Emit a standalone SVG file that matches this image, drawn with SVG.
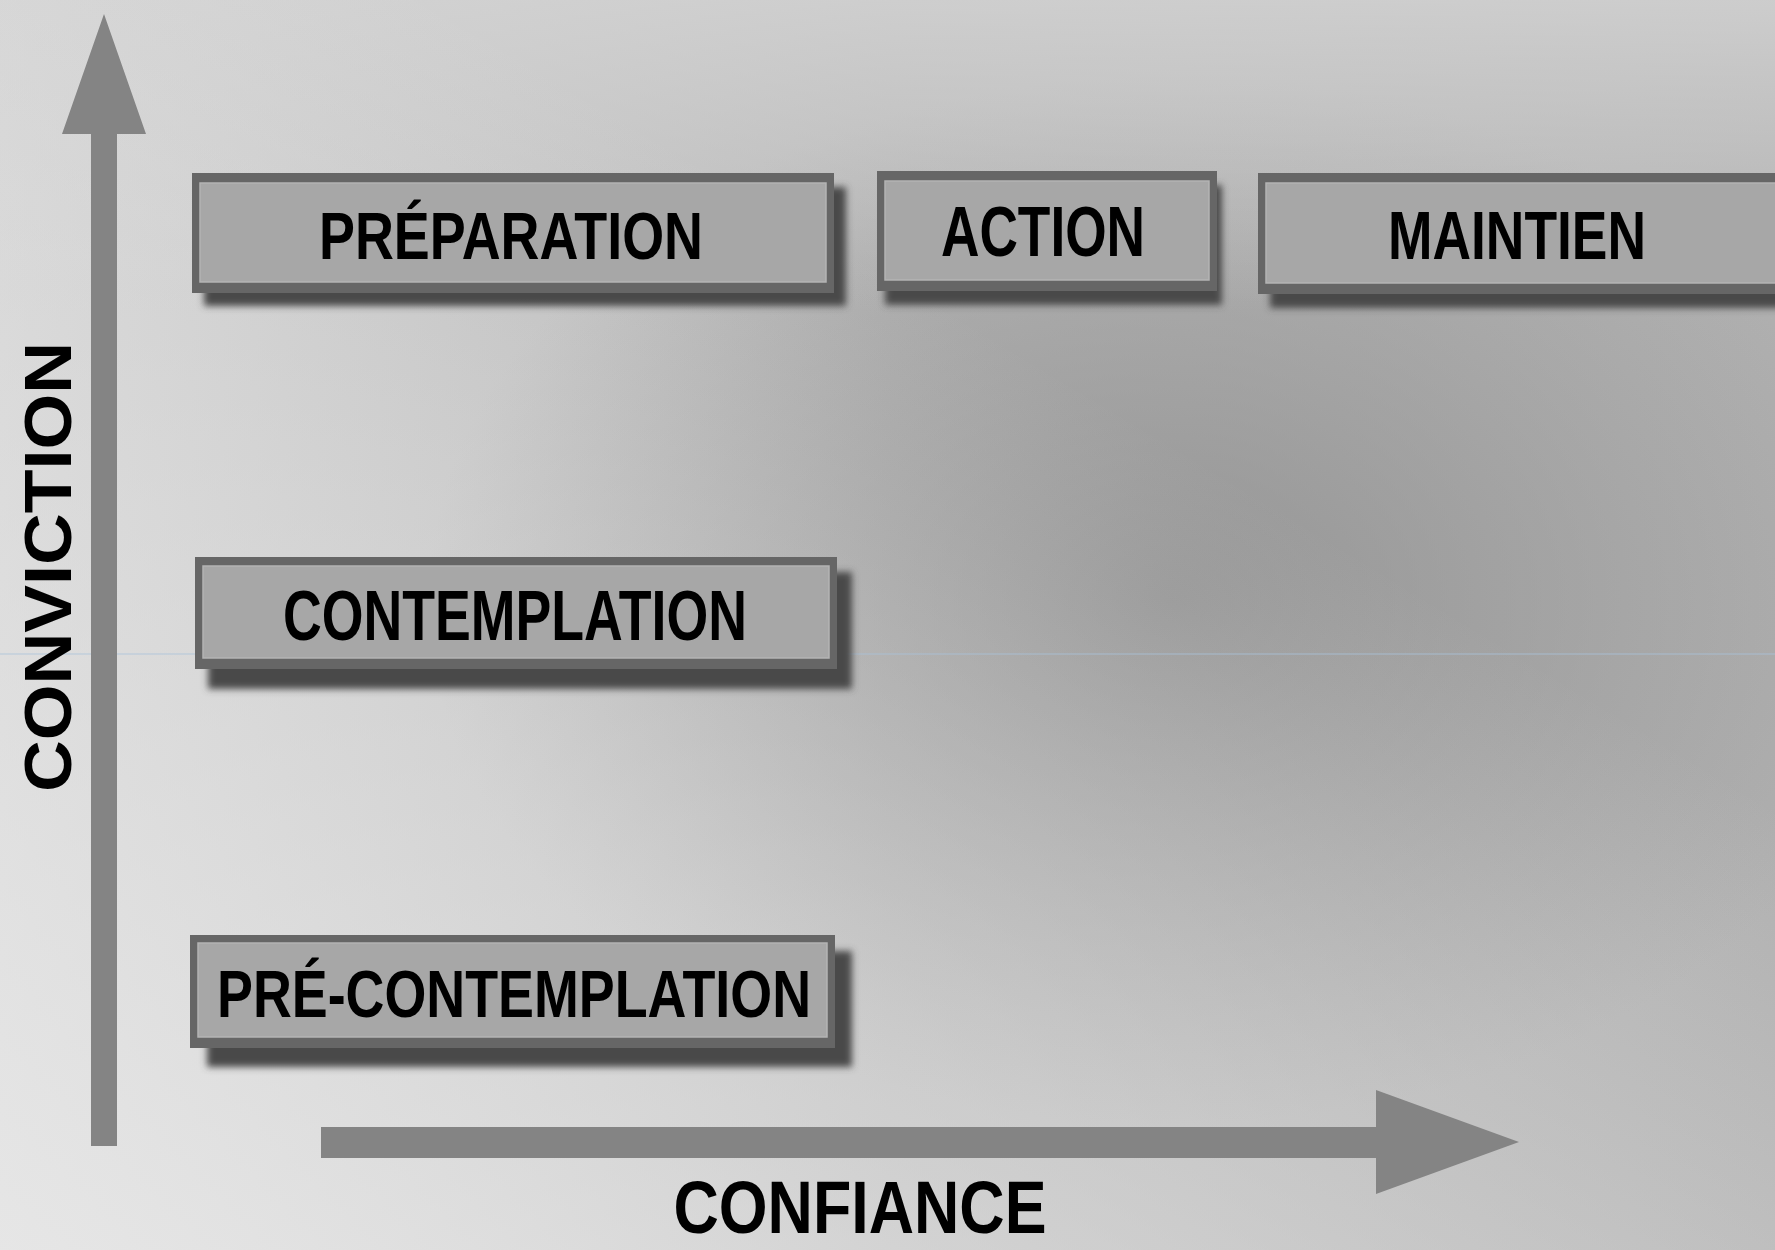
<svg xmlns="http://www.w3.org/2000/svg" width="1775" height="1250" viewBox="0 0 1775 1250">
<defs>
<linearGradient id="bg" x1="0" y1="0" x2="1" y2="0">
<stop offset="0" stop-color="#d2d2d2"/>
<stop offset="0.5" stop-color="#b6b6b6"/>
<stop offset="1" stop-color="#b0b0b0"/>
</linearGradient>
<radialGradient id="dark" cx="0.66" cy="0.48" r="0.42">
<stop offset="0" stop-color="#8e8e8e" stop-opacity="0.8"/>
<stop offset="1" stop-color="#8e8e8e" stop-opacity="0"/>
</radialGradient>
<linearGradient id="top" x1="0" y1="0" x2="0" y2="1">
<stop offset="0" stop-color="#d4d4d4" stop-opacity="0.8"/>
<stop offset="0.25" stop-color="#d4d4d4" stop-opacity="0"/>
</linearGradient>
<linearGradient id="light" x1="0" y1="1" x2="0.6" y2="0.3">
<stop offset="0" stop-color="#e8e8e8" stop-opacity="0.9"/>
<stop offset="1" stop-color="#e8e8e8" stop-opacity="0"/>
</linearGradient>
<filter id="blur" x="-10%" y="-30%" width="120%" height="160%">
<feGaussianBlur stdDeviation="3.5"/>
</filter>
<style>
.shadow{fill:#484848;filter:url(#blur)}
.frame{fill:#666666}
.face{fill:#a7a7a7;stroke:#b4b4b4;stroke-width:1.5}
.lbl{font-family:"Liberation Sans",Arial,sans-serif;font-weight:bold;fill:#000;text-anchor:middle}
.axis{fill:#848484}
</style>
</defs>
<rect x="0" y="0" width="1775" height="1250" fill="url(#bg)"/>
<rect x="0" y="0" width="1775" height="1250" fill="url(#dark)"/>
<rect x="0" y="0" width="1775" height="1250" fill="url(#top)"/>
<rect x="0" y="0" width="1775" height="1250" fill="url(#light)"/>
<line x1="0" y1="654" x2="1775" y2="654" stroke="#a9c2da" stroke-width="1" opacity="0.8"/>

<g id="connectors">
<polygon class="axis" points="91,1146 91,134 62,134 104,14 146,134 117,134 117,1146"/>
<polygon class="axis" fill="#808080" points="321,1127 1376,1127 1376,1090 1519,1142 1376,1194 1376,1158 321,1158"/>
</g>

<g id="axis-conviction">
<text class="lbl" transform="translate(71,567) rotate(-90)" font-size="67" textLength="450" lengthAdjust="spacingAndGlyphs">CONVICTION</text>
</g>
<g id="axis-confiance">
<text class="lbl" x="860" y="1233" font-size="74" textLength="373" lengthAdjust="spacingAndGlyphs">CONFIANCE</text>
</g>

<g id="node-preparation">
<rect class="shadow" x="204" y="187" width="642" height="119"/>
<rect class="frame" x="192" y="173" width="642" height="120"/>
<rect class="face" x="200" y="183" width="626" height="99"/>
<text class="lbl" x="511" y="259" font-size="66" textLength="384" lengthAdjust="spacingAndGlyphs">PRÉPARATION</text>
</g>

<g id="node-action">
<rect class="shadow" x="885" y="185" width="337" height="120"/>
<rect class="frame" x="877" y="171" width="340" height="120"/>
<rect class="face" x="885" y="181" width="324" height="99"/>
<text class="lbl" x="1043" y="256" font-size="70" textLength="204" lengthAdjust="spacingAndGlyphs">ACTION</text>
</g>

<g id="node-maintien">
<rect class="shadow" x="1270" y="188" width="520" height="120"/>
<rect class="frame" x="1258" y="173" width="530" height="121"/>
<rect class="face" x="1266" y="183" width="520" height="100"/>
<text class="lbl" x="1517" y="259" font-size="68" textLength="258" lengthAdjust="spacingAndGlyphs">MAINTIEN</text>
</g>

<g id="node-contemplation">
<rect class="shadow" x="208" y="572" width="644" height="117"/>
<rect class="frame" x="195" y="557" width="642" height="112"/>
<rect class="face" x="203" y="566" width="626" height="92"/>
<text class="lbl" x="515" y="640" font-size="70" textLength="464" lengthAdjust="spacingAndGlyphs">CONTEMPLATION</text>
</g>

<g id="node-precontemplation">
<rect class="shadow" x="207" y="951" width="645" height="116"/>
<rect class="frame" x="190" y="935" width="645" height="113"/>
<rect class="face" x="198" y="943" width="629" height="94"/>
<text class="lbl" x="514" y="1017" font-size="66" textLength="594" lengthAdjust="spacingAndGlyphs">PRÉ-CONTEMPLATION</text>
</g>
</svg>
